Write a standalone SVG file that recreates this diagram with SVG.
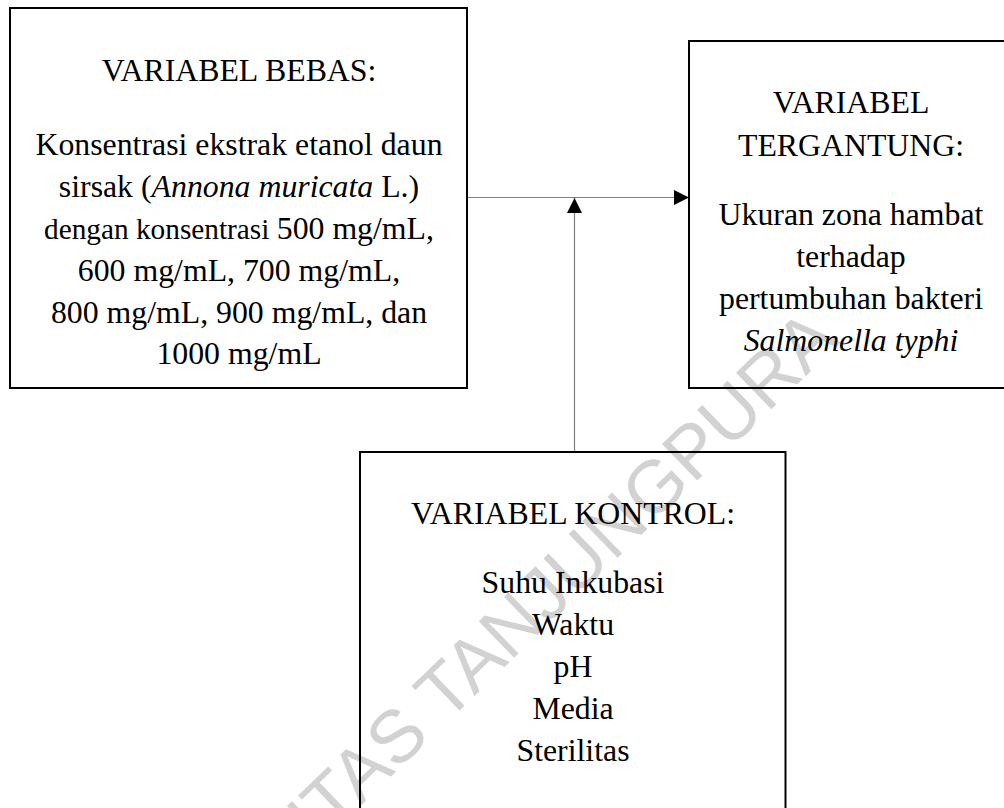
<svg xmlns="http://www.w3.org/2000/svg" width="1004" height="808" viewBox="0 0 1004 808">
  <style>
    .box { fill: none; stroke: #000; stroke-width: 2; }
    .t { font-family: "Liberation Serif", "Times New Roman", serif; font-size: 31.8px; fill: #000; text-anchor: middle; }
    .it { font-style: italic; }
    .wire { stroke: #7f7f7f; stroke-width: 1.2; fill: none; }
    .wm { font-family: "Liberation Sans", Arial, sans-serif; font-size: 74px; fill: #d2d2d2; text-anchor: end; }
  </style>
  <defs>
    <marker id="ah" markerUnits="userSpaceOnUse" markerWidth="16" markerHeight="16" viewBox="0 0 16 16" refX="15" refY="8" orient="auto">
      <path d="M0,0.5 L15,8 L0,15.5 Z" fill="#000"/>
    </marker>
  </defs>
  <rect x="0" y="0" width="1004" height="808" fill="#fff"/>
  <text class="wm" x="841" y="342" transform="rotate(-44 841 342)">UNIVERSITAS TANJUNGPURA</text>

  <g id="connectors">
    <line class="wire" x1="468" y1="197.5" x2="689" y2="197.5" marker-end="url(#ah)"/>
    <line class="wire" x1="574.5" y1="451" x2="574.5" y2="198" marker-end="url(#ah)"/>
  </g>

  <g id="bebas">
    <rect class="box" x="10" y="8" width="457" height="380"/>
    <text class="t" x="239" y="81">VARIABEL BEBAS:</text>
    <text class="t" x="239" y="155">Konsentrasi ekstrak etanol daun</text>
    <text class="t" x="239" y="197">sirsak (<tspan class="it">Annona muricata</tspan> L.)</text>
    <text class="t" x="239" y="239"><tspan font-size="29.3px">dengan konsentrasi </tspan>500 mg/mL,</text>
    <text class="t" x="239" y="280.5">600 mg/mL, 700 mg/mL,</text>
    <text class="t" x="239" y="322.5">800 mg/mL, 900 mg/mL, dan</text>
    <text class="t" x="239" y="364">1000 mg/mL</text>
  </g>

  <g id="tergantung">
    <rect class="box" x="689" y="41" width="330" height="347"/>
    <text class="t" x="851" y="113">VARIABEL</text>
    <text class="t" x="851" y="156">TERGANTUNG:</text>
    <text class="t" x="851" y="225">Ukuran zona hambat</text>
    <text class="t" x="851" y="267">terhadap</text>
    <text class="t" x="851" y="308.5">pertumbuhan bakteri</text>
    <text class="t it" x="851" y="351">Salmonella typhi</text>
  </g>

  <g id="kontrol">
    <rect class="box" x="360" y="452" width="425.5" height="380"/>
    <text class="t" x="573" y="523.5">VARIABEL KONTROL:</text>
    <text class="t" x="573" y="593">Suhu Inkubasi</text>
    <text class="t" x="573" y="634.5">Waktu</text>
    <text class="t" x="573" y="676.5">pH</text>
    <text class="t" x="573" y="719">Media</text>
    <text class="t" x="573" y="761">Sterilitas</text>
  </g>
</svg>
